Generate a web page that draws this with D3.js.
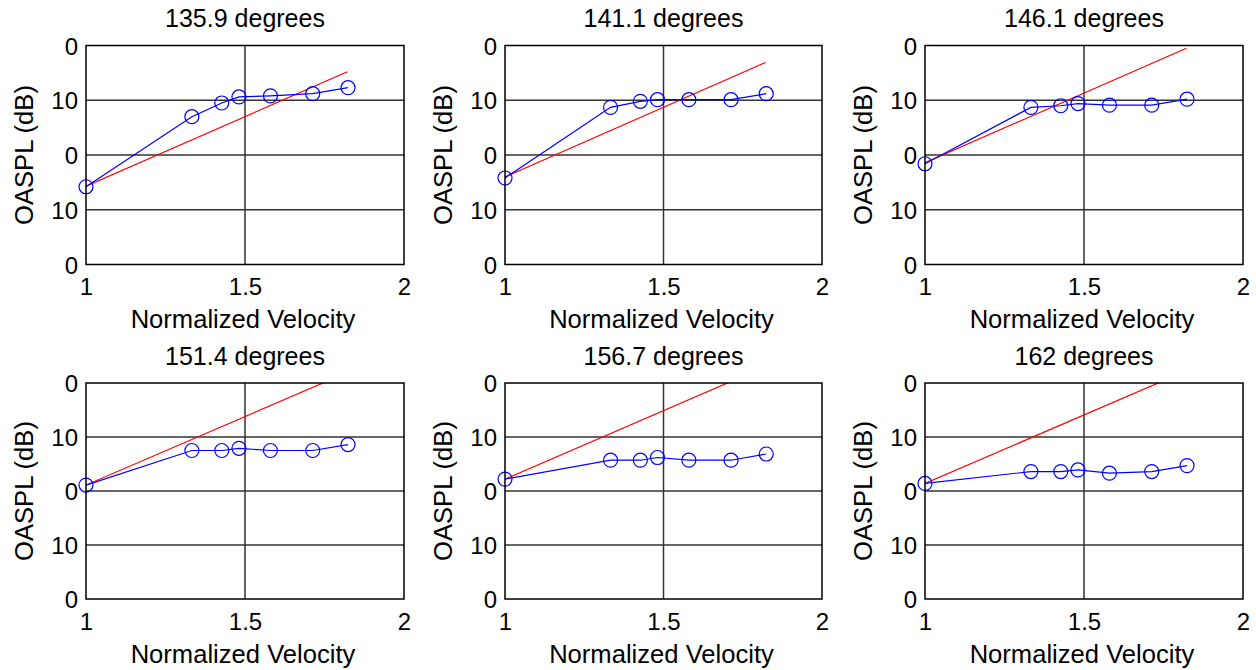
<!DOCTYPE html>
<html>
<head>
<meta charset="utf-8">
<script src="https://cdn.jsdelivr.net/npm/d3@7"></script>
<style>
  html, body { margin: 0; padding: 0; background: #fff; }
  svg { display: block; }
  text { font-family: "Liberation Sans", Arial, Helvetica, sans-serif; fill: #000; }
</style>
</head>
<body>
<svg id="chart" width="1256" height="670"></svg>
<script>
// ---- Data ----
const titles = ["135.9 degrees", "141.1 degrees", "146.1 degrees", "151.4 degrees", "156.7 degrees", "162 degrees"];
const velocity = [1.0, 1.333, 1.427, 1.481, 1.58, 1.713, 1.824];
const oaspl135 = [94.2, 107.0, 109.5, 110.6, 110.8, 111.2, 112.3];
const oaspl141 = [95.8, 108.7, 109.8, 110.1, 110.1, 110.1, 111.2];
const oaspl146 = [98.4, 108.7, 109.0, 109.4, 109.1, 109.1, 110.2];
const oaspl151 = [101.1, 107.5, 107.5, 107.9, 107.5, 107.5, 108.6];
const oaspl156 = [102.2, 105.7, 105.7, 106.2, 105.7, 105.7, 106.85];
const oaspl162 = [101.4, 103.6, 103.6, 103.9, 103.3, 103.6, 104.7];
const fitVelocity = [1.0, 1.822];
const fit135 = [94.3, 115.2];
const fit141 = [96.0, 116.9];
const fit146 = [98.6, 119.5];
const fit151 = [101.1, 121.95];
const fit156 = [102.2, 123.05];
const fit162 = [101.4, 122.25];
const xTicks = [1, 1.5, 2];
const xTickLabels = ["1", "1.5", "2"];
const yTicks = [80, 90, 100, 110, 120];
const yTickLabels = ["0", "10", "0", "10", "0"];
const xLabel = "Normalized Velocity";
const yLabel = "OASPL (dB)";

const seriesList = [oaspl135, oaspl141, oaspl146, oaspl151, oaspl156, oaspl162];
const fitList = [fit135, fit141, fit146, fit151, fit156, fit162];

// ---- Layout ----
const colLeft = [86, 505, 925];
const colWidth = [318, 317, 318];
const rowTop = [45.5, 383];
const rowHeight = [219, 216];
const tickFont = 24;
const titleFont = 25;
const labelFont = 25.6;

const svg = d3.select("#chart");

titles.forEach((title, i) => {
  const r = Math.floor(i / 3), c = i % 3;
  const left = colLeft[c], top = rowTop[r], w = colWidth[c], h = rowHeight[r];
  const g = svg.append("g").attr("transform", `translate(${left},${top})`);

  const x = d3.scaleLinear().domain([1, 2]).range([0, w]);
  const y = d3.scaleLinear().domain([80, 120]).range([h, 0]);

  const clipId = "clip" + i;
  g.append("clipPath").attr("id", clipId)
    .append("rect").attr("x", 0).attr("y", 0).attr("width", w).attr("height", h);

  // grid lines
  g.append("g").selectAll("line.hg").data(yTicks.filter(t => t > 80 && t < 120)).join("line")
    .attr("x1", 0).attr("x2", w)
    .attr("y1", d => y(d)).attr("y2", d => y(d))
    .attr("stroke", "#333").attr("stroke-width", 1.5);
  g.append("g").selectAll("line.vg").data(xTicks.filter(t => t > 1 && t < 2)).join("line")
    .attr("y1", 0).attr("y2", h)
    .attr("x1", d => x(d)).attr("x2", d => x(d))
    .attr("stroke", "#333").attr("stroke-width", 1.5);

  // axes (labels only; box drawn separately)
  const yAxis = d3.axisLeft(y).tickValues(yTicks)
    .tickFormat((d, k) => yTickLabels[k]).tickSize(0).tickPadding(8);
  const ya = g.append("g").call(yAxis);
  ya.select(".domain").remove();
  ya.selectAll("text").attr("font-size", tickFont).attr("dy", "0.36em")
    .style("font-family", '"Liberation Sans", Arial, sans-serif').attr("fill", "#000");

  const xAxis = d3.axisBottom(x).tickValues(xTicks)
    .tickFormat((d, k) => xTickLabels[k]).tickSize(0).tickPadding(0);
  const xa = g.append("g").attr("transform", `translate(0,${h})`).call(xAxis);
  xa.select(".domain").remove();
  xa.selectAll("text").attr("font-size", tickFont).attr("y", 30.5).attr("dy", 0)
    .style("font-family", '"Liberation Sans", Arial, sans-serif').attr("fill", "#000");

  // data
  const plot = g.append("g").attr("clip-path", `url(#${clipId})`);
  const fit = fitList[i];
  plot.append("path")
    .datum(fitVelocity.map((v, k) => [v, fit[k]]))
    .attr("d", d3.line().x(d => x(d[0])).y(d => y(d[1])))
    .attr("fill", "none").attr("stroke", "#ff0000").attr("stroke-width", 1.2);

  const vals = seriesList[i];
  const pts = velocity.map((v, k) => [v, vals[k]]);
  g.append("path").datum(pts)
    .attr("d", d3.line().x(d => x(d[0])).y(d => y(d[1])))
    .attr("fill", "none").attr("stroke", "#0000ff").attr("stroke-width", 1.2);
  g.append("g").selectAll("circle").data(pts).join("circle")
    .attr("cx", d => x(d[0])).attr("cy", d => y(d[1])).attr("r", 7)
    .attr("fill", "none").attr("stroke", "#0000ff").attr("stroke-width", 1.2);

  // box
  g.append("rect").attr("x", 0).attr("y", 0).attr("width", w).attr("height", h)
    .attr("fill", "none").attr("stroke", "#000").attr("stroke-width", 1.5);

  // title
  g.append("text").attr("x", w / 2).attr("y", -18.5)
    .attr("text-anchor", "middle").attr("font-size", titleFont).text(title);

  // x label
  g.append("text").attr("x", w / 2 - 2).attr("y", h + 63.5)
    .attr("text-anchor", "middle").attr("font-size", labelFont).text(xLabel);

  // y label
  g.append("text")
    .attr("transform", `translate(-53,${h / 2}) rotate(-90)`)
    .attr("text-anchor", "middle").attr("font-size", labelFont).text(yLabel);
});
</script>
</body>
</html>
